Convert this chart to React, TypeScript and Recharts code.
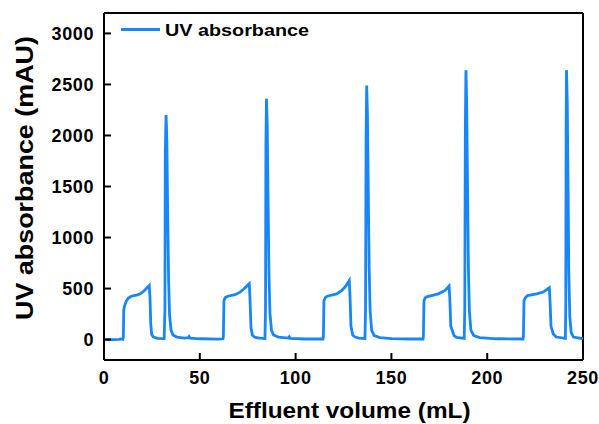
import React from 'react';
import { LineChart, Line, XAxis, YAxis, ReferenceLine, Label } from 'recharts';

// Effluent volume (mL) and UV absorbance (mAU)
const volumeMl = [
  0, 5, 8, 9.3, 9.8, 10.1, 10.3, 10.8, 11.6, 12.6, 14.2, 17, 19, 21, 23.6, 24.0, 24.4, 24.9, 25.8, 28, 31.4,
  31.8, 32.0, 32.4, 32.8, 33.2, 33.7, 34.2, 35, 36, 38, 42, 44, 44.4, 44.9, 50, 60, 62.1,
  62.3, 62.6, 63.2, 64.5, 68.4, 71, 73, 75.8, 76.2, 76.7, 77.4, 78.5, 81, 84.0,
  84.3, 84.5, 84.8, 85.2, 85.6, 86.1, 86.6, 87.4, 88.5, 91, 96.2, 96.7, 97.2, 105, 114.3,
  114.5, 114.8, 115.5, 116.5, 121.4, 124, 126, 128, 128.4, 128.9, 129.8, 131, 133, 136.2,
  136.5, 136.8, 137.1, 137.5, 137.9, 138.4, 138.9, 139.7, 141, 144, 150, 160, 166.5,
  166.7, 167.0, 167.7, 168.8, 174.5, 178, 180.1, 180.5, 181.0, 182.7, 184, 188.0,
  188.3, 188.6, 188.9, 189.3, 189.7, 190.2, 190.7, 191.5, 193, 196, 205, 218.7,
  218.9, 219.2, 219.9, 221, 225.8, 229.3, 232.4, 232.8, 233.3, 234.5, 236, 240.8,
  241.0, 241.2, 241.4, 241.8, 242.2, 242.6, 243.1, 243.8, 245, 250,
];

const absorbanceMAU = [
  2, 0, 3, 8, 3, 20, 290, 335, 375, 405, 425, 435, 448, 478, 530, 420, 150, 50, 25, 12, 10,
  300, 1850, 2200, 1950, 1300, 600, 250, 90, 45, 25, 15, 18, 30, 15, 8, 5, 8,
  30, 380, 410, 425, 440, 465, 495, 548, 400, 120, 45, 25, 14, 10,
  300, 1900, 2360, 2100, 1400, 650, 260, 90, 45, 25, 15, 28, 12, 6, 6,
  30, 380, 410, 425, 448, 480, 520, 578, 420, 130, 45, 25, 14, 10,
  300, 2000, 2490, 2200, 1500, 700, 280, 90, 40, 20, 10, 6, 6,
  30, 380, 410, 422, 448, 482, 525, 400, 130, 40, 22, 12,
  300, 2100, 2640, 2300, 1550, 700, 280, 90, 40, 20, 8, 6,
  30, 380, 410, 432, 448, 466, 508, 380, 130, 55, 25, 12,
  300, 2100, 2640, 2300, 1500, 650, 230, 70, 25, 8,
];

const xTicks = [0, 50, 100, 150, 200, 250];
const yTicks = [0, 500, 1000, 1500, 2000, 2500, 3000];
const xDomain = [0, 250];
const yDomain = [-200, 3200];

const seriesName = 'UV absorbance';
const xTitle = 'Effluent volume (mL)';
const yTitle = 'UV absorbance (mAU)';

const data = volumeMl.map((v, i) => ({ volume: v, uv: absorbanceMAU[i] }));

const FONT = '"Liberation Sans", Arial, Helvetica, sans-serif';
const LINE_COLOR = '#1787F8';

const YTick = (props: any) => {
  const { x, y, payload } = props;
  return (
    <text
      x={x}
      y={y}
      dy="0.36em"
      textAnchor="end"
      fontFamily={FONT}
      fontWeight="bold"
      fontSize={18}
      letterSpacing={0.6}
      fill="#000"
    >
      {payload.value}
    </text>
  );
};

const XTick = (props: any) => {
  const { x, y, payload } = props;
  return (
    <text
      x={x}
      y={y}
      dy="0.72em"
      textAnchor="middle"
      fontFamily={FONT}
      fontWeight="bold"
      fontSize={18}
      letterSpacing={0.6}
      fill="#000"
    >
      {payload.value}
    </text>
  );
};

const XTitle = (props: any) => {
  const vb = props.viewBox || { x: 104, y: 360, width: 479, height: 64 };
  const cx = vb.x + vb.width / 2 + 6;
  return (
    <text
      x={cx}
      y={418}
      textAnchor="middle"
      fontFamily={FONT}
      fontWeight="bold"
      fontSize={22}
      textLength={242}
      lengthAdjust="spacingAndGlyphs"
      fill="#000"
    >
      {xTitle}
    </text>
  );
};

const YTitle = () => {
  const cx = 33;
  const cy = 178;
  return (
    <text
      x={cx}
      y={cy}
      transform={`rotate(-90 ${cx} ${cy})`}
      textAnchor="middle"
      fontFamily={FONT}
      fontWeight="bold"
      fontSize={24}
      textLength={284}
      lengthAdjust="spacingAndGlyphs"
      fill="#000"
    >
      {yTitle}
    </text>
  );
};

const LegendOverlay = () => (
  <svg
    width={200}
    height={26}
    style={{ position: 'absolute', left: 120, top: 18, display: 'block' }}
  >
    <line x1={1} x2={40} y1={11.5} y2={11.5} stroke={LINE_COLOR} strokeWidth={2.8} />
    <text
      x={45}
      y={17.5}
      fontFamily={FONT}
      fontWeight="bold"
      fontSize={17}
      textLength={144}
      lengthAdjust="spacingAndGlyphs"
      fill="#000"
    >
      {seriesName}
    </text>
  </svg>
);

export default function App() {
  return (
    <div style={{ position: 'absolute', left: 0, top: 0, width: 599, height: 424, background: '#fff' }}>
      <LineChart
        width={599}
        height={424}
        data={data}
        margin={{ top: 13, right: 16, bottom: 0, left: 0 }}
      >
        <XAxis
          dataKey="volume"
          type="number"
          domain={xDomain}
          ticks={xTicks}
          allowDataOverflow
          height={64}
          axisLine={{ stroke: '#000', strokeWidth: 2 }}
          tickLine={{ stroke: '#000', strokeWidth: 2 }}
          tickSize={-7}
          tickMargin={18}
          tick={<XTick />}
          interval={0}
        >
          <Label content={<XTitle />} />
        </XAxis>
        <YAxis
          type="number"
          domain={yDomain}
          ticks={yTicks}
          allowDataOverflow
          width={104}
          axisLine={{ stroke: '#000', strokeWidth: 2 }}
          tickLine={{ stroke: '#000', strokeWidth: 2 }}
          tickSize={-7}
          tickMargin={17}
          tick={<YTick />}
          interval={0}
        >
          <Label content={<YTitle />} />
        </YAxis>
        <ReferenceLine y={3200} stroke="#000" strokeWidth={2} ifOverflow="visible" />
        <ReferenceLine x={250} stroke="#000" strokeWidth={2} ifOverflow="visible" />
        <Line
          type="linear"
          dataKey="uv"
          name={seriesName}
          stroke={LINE_COLOR}
          strokeWidth={2.8}
          dot={false}
          activeDot={false}
          isAnimationActive={false}
        />
      </LineChart>
      <LegendOverlay />
    </div>
  );
}
